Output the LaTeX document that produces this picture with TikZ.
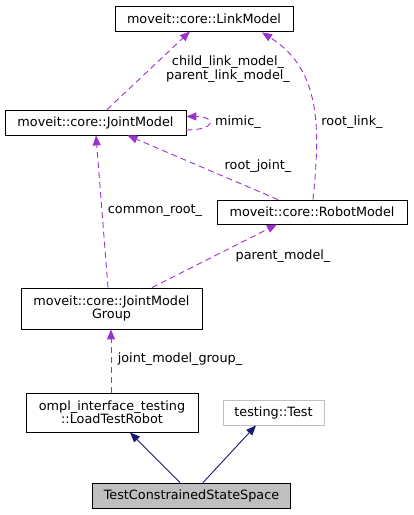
\documentclass[tikz,border=0pt]{standalone}
\usepackage{fontspec}
\setmainfont{DejaVu Sans}
\usetikzlibrary{arrows.meta,calc}
\definecolor{dep}{HTML}{9A32CD}
\definecolor{inh}{HTML}{191970}
\definecolor{lgray}{HTML}{BFBFBF}
\begin{document}
\begin{tikzpicture}[x=1bp,y=-1bp,
  font=\fontsize{12.8bp}{13.4bp}\selectfont,
  box/.style={draw=black, line width=0.8bp, inner sep=0pt, align=center},
  deparrow/.style={draw=dep, line width=0.9bp, dash pattern=on 6bp off 4bp,
    -{Triangle[length=10bp,width=8bp]}},
  inharrow/.style={draw=inh, line width=0.9bp,
    -{Triangle[length=10bp,width=8bp]}},
  lbl/.style={inner sep=0pt, align=center}]
\useasboundingbox (0,0) rectangle (413,515);

\node[box, minimum width=178bp, minimum height=25bp] (lm) at (204,18.5) {moveit::core::LinkModel};
\node[box, minimum width=181bp, minimum height=25bp] (jm) at (95.5,122.5) {moveit::core::JointModel};
\node[box, minimum width=190bp, minimum height=24bp] (rm) at (312,212) {moveit::core::RobotModel};
\node[box, minimum width=181bp, minimum height=41bp] (jmg) at (111.5,308.5) {moveit::core::JointModel\\Group};
\node[box, minimum width=172bp, minimum height=39bp] (ltr) at (112,412.5) {ompl\_interface\_testing\\::LoadTestRobot};
\node[box, draw=lgray, minimum width=101bp, minimum height=25bp] (tt) at (273.5,412.5) {testing::Test};
\node[box, fill=lgray, minimum width=198bp, minimum height=25bp] (tcs) at (191.5,495.5) {TestConstrainedStateSpace};

% dependencies
\draw[deparrow] ($(jm.north)+(11.5,0)$) -- ($(lm.south)+(-14,0)$);
\node[lbl] (l1) at (228,69) {child\_link\_model\_\\parent\_link\_model\_};

\draw[deparrow] ($(jm.east)+(0,7.5)$) .. controls +(30,0) and +(30,0) .. ($(jm.east)+(0,-6)$);
\node[lbl, anchor=west] (l2) at (215,122) {mimic\_};

\draw[deparrow] ($(rm.north)+(1,0)$) .. controls (320,130) and (322,70) .. ($(lm.south)+(58,1)$);
\node[lbl] (l3) at (352,122) {root\_link\_};

\draw[deparrow] ($(rm.north)+(-34,0)$) -- ($(jm.south)+(32,0)$);
\node[lbl] (l4) at (258,166) {root\_joint\_};

\draw[deparrow] ($(jmg.north)+(-3.5,0)$) -- ($(jm.south)+(0.5,0)$);
\node[lbl] (l5) at (155,211) {common\_root\_};

\draw[deparrow] ($(jmg.north)+(40.5,0)$) -- ($(rm.south)+(-35,0)$);
\node[lbl] (l6) at (283,256) {parent\_model\_};

\draw[deparrow] ($(ltr.north)+(-1,0)$) -- ($(jmg.south)+(-0.5,0)$);
\node[lbl] (l7) at (180,359) {joint\_model\_group\_};

% inheritance
\draw[inharrow] ($(tcs.north)+(-11.5,0)$) -- ($(ltr.south)+(18,0)$);
\draw[inharrow] ($(tcs.north)+(11.5,0)$) -- ($(tt.south)+(-17.5,0)$);
\end{tikzpicture}
\end{document}
